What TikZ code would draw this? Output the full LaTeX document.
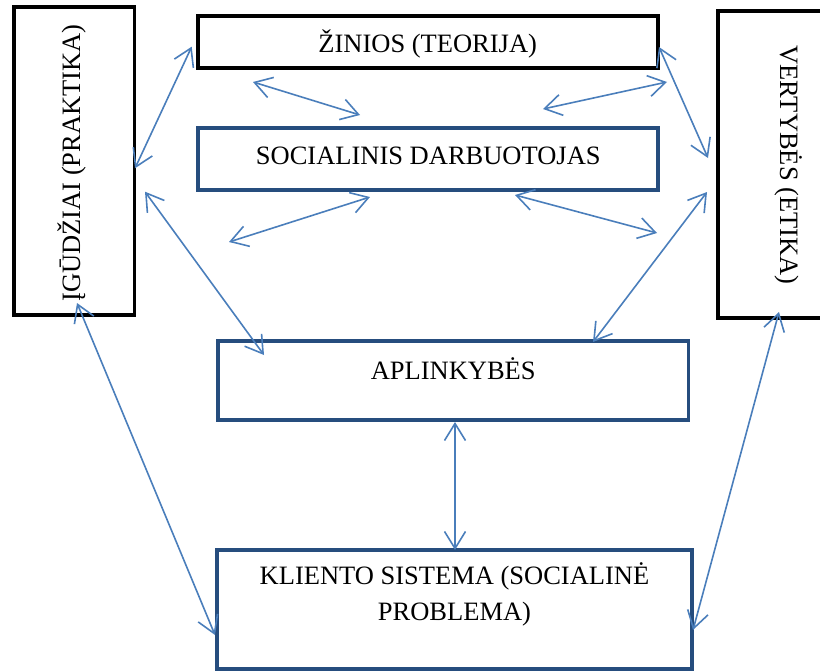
\documentclass[tikz,border=0pt]{standalone}
\usepackage{fontspec}
\setmainfont{Liberation Serif}
\usetikzlibrary{arrows.meta}
\definecolor{framenavy}{HTML}{264D7E}
\definecolor{linkblue}{HTML}{4A7EBB}

\begin{document}
\begin{tikzpicture}[x=1pt, y=-1pt,
  frame/.style={draw=#1, line width=3.7pt, rectangle, inner sep=0pt, outer sep=0pt},
  label/.style={font=\fontsize{26.5}{36}\selectfont, inner sep=0pt, anchor=base, align=center},
  link/.style={draw=linkblue, line width=1.6pt,
    {Straight Barb[length=17pt, width=21pt, line width=1.6pt]}-{Straight Barb[length=17pt, width=21pt, line width=1.6pt]}}]

  % page extent
  \useasboundingbox (0,0) rectangle (820,672);

  % frames
  \node[frame=black, minimum width=120.2pt, minimum height=308pt] (skills) at (74.4,160.7) {};
  \node[frame=black, minimum width=107.3pt, minimum height=307.3pt] (values) at (771.4,164.6) {};
  \node[frame=black, minimum width=460pt, minimum height=52pt] (knowledge) at (427.7,41.7) {};
  \node[frame=framenavy, minimum width=460pt, minimum height=61.7pt] (worker) at (428.3,158.8) {};
  \node[frame=framenavy, minimum width=470.3pt, minimum height=79pt] (circum) at (453.2,380.5) {};
  \node[frame=framenavy, minimum width=475.6pt, minimum height=118.7pt] (client) at (454.5,609.3) {};

  % texts
  \node[label, rotate=90] (skillsT) at (80,163) {ĮGŪDŽIAI (PRAKTIKA)};
  \node[label, rotate=-90] (valuesT) at (780,165) {VERTYBĖS (ETIKA)};
  \node[label] (knowledgeT) at (427.7,52) {ŽINIOS (TEORIJA)};
  \node[label] (workerT) at (428.3,164) {SOCIALINIS DARBUOTOJAS};
  \node[label] (circumT) at (453.2,379) {APLINKYBĖS};
  \node[label, anchor=north] (clientT) at (454.5,562) {KLIENTO SISTEMA (SOCIALINĖ\\PROBLEMA)};

  % connector ends
  \coordinate (s1) at (135,168.3);   \coordinate (k1) at (191.7,46.7);
  \coordinate (s2) at (145,191.7);   \coordinate (c1) at (264,355);
  \coordinate (s3) at (77,303);      \coordinate (l1) at (215,635);
  \coordinate (k2) at (659,47);      \coordinate (v1) at (708,158);
  \coordinate (v2) at (707,192);     \coordinate (c2) at (593,342);
  \coordinate (v3) at (779,312);     \coordinate (l2) at (693,630);
  \coordinate (k3) at (253,82);      \coordinate (w1) at (360,115);
  \coordinate (w2) at (543,109);     \coordinate (k4) at (667,82);
  \coordinate (w3) at (370,197);     \coordinate (p1) at (229,242);
  \coordinate (w4) at (515,195);     \coordinate (p2) at (657,233);
  \coordinate (c3) at (455,422);     \coordinate (l3) at (455,550);

  % connectors
  \draw[link] (s1) -- (k1);
  \draw[link] (s2) -- (c1);
  \draw[link] (s3) -- (l1);
  \draw[link] (k2) -- (v1);
  \draw[link] (v2) -- (c2);
  \draw[link] (v3) -- (l2);
  \draw[link] (k3) -- (w1);
  \draw[link] (w2) -- (k4);
  \draw[link] (w3) -- (p1);
  \draw[link] (w4) -- (p2);
  \draw[link] (c3) -- (l3);
\end{tikzpicture}
\end{document}
